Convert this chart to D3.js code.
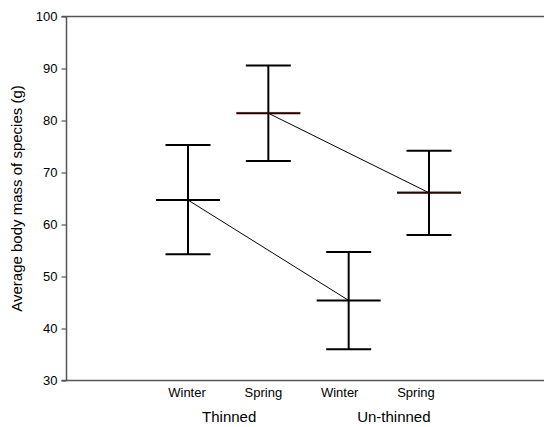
<!DOCTYPE html>
<html lang="en">
<head>
<meta charset="utf-8">
<script src="https://cdn.jsdelivr.net/npm/d3@7"></script>
<style>
  body { margin: 0; background: #fff; }
  text { font-family: "Liberation Sans", Arial, sans-serif; fill: #000; }
</style>
</head>
<body>
<div id="my_dataviz"></div>
<script>
// categories along the x axis
var seasons = ["Winter", "Spring", "Winter", "Spring"];
var treatments = ["Thinned", "Thinned", "Un-thinned", "Un-thinned"];
var groups = ["Thinned", "Un-thinned"];

// mean and error bar ends (g)
var means = [64.7, 81.4, 45.4, 66.1];
var upper = [75.3, 90.6, 54.7, 74.2];
var lower = [54.3, 72.2, 36.0, 58.0];

var yTicks = [30, 40, 50, 60, 70, 80, 90, 100];

var W = 544, H = 427;

var svg = d3.select("#my_dataviz")
    .append("svg")
    .attr("width", W)
    .attr("height", H);

var plotLeft = 66.5, plotTop = 16.5, plotBottom = 380.5;

// Y scale
var y = d3.scaleLinear()
    .domain([30, 100])
    .range([plotBottom, plotTop]);

// X scale, category index 0..3
var x = d3.scaleLinear()
    .domain([0, 3])
    .range([188, 429]);

// labels sit a little off the bars in the original
var xl = d3.scaleLinear()
    .domain([0, 3])
    .range([187, 416]);

// frame: left axis, top and bottom lines
var axisColor = "#555";
svg.append("line")
    .attr("x1", plotLeft).attr("x2", plotLeft)
    .attr("y1", plotTop).attr("y2", plotBottom)
    .style("stroke", axisColor).style("stroke-width", 1.5);
svg.append("line")
    .attr("x1", plotLeft - 5).attr("x2", W)
    .attr("y1", plotTop).attr("y2", plotTop)
    .style("stroke", axisColor).style("stroke-width", 1.5);
svg.append("line")
    .attr("x1", plotLeft - 5).attr("x2", W)
    .attr("y1", plotBottom).attr("y2", plotBottom)
    .style("stroke", axisColor).style("stroke-width", 1.5);

// y axis ticks
var yAxis = d3.axisLeft(y).tickValues(yTicks).tickSize(5).tickPadding(4);
var gy = svg.append("g")
    .attr("transform", "translate(" + plotLeft + ",0)")
    .call(yAxis);
gy.select(".domain").remove();
gy.selectAll(".tick line").style("stroke", axisColor).style("stroke-width", 1.2);
gy.selectAll(".tick text")
    .style("font-size", "13px")
    .style("font-family", "'Liberation Sans', Arial, sans-serif")
    .attr("fill", "#000");

// y title
svg.append("text")
    .attr("transform", "translate(22," + ((plotTop + plotBottom) / 2) + ") rotate(-90)")
    .attr("text-anchor", "middle")
    .style("font-size", "15px")
    .text("Average body mass of species (g)");

// x tick labels
svg.selectAll(".season")
    .data(seasons)
    .enter()
    .append("text")
    .attr("class", "season")
    .attr("x", function (d, i) { return xl(i); })
    .attr("y", 397)
    .attr("text-anchor", "middle")
    .style("font-size", "13px")
    .text(function (d) { return d; });

// group labels
svg.selectAll(".group")
    .data(groups)
    .enter()
    .append("text")
    .attr("class", "group")
    .attr("x", function (g) {
        var idx = [];
        treatments.forEach(function (t, i) { if (t === g) idx.push(i); });
        return xl(d3.mean(idx)) + (g === "Thinned" ? 4 : 16);
    })
    .attr("y", 422)
    .attr("text-anchor", "middle")
    .style("font-size", "15px")
    .text(function (d) { return d; });

// connecting lines: same season across treatments
var idxs = d3.range(seasons.length);
["Winter", "Spring"].forEach(function (s) {
    var pts = idxs.filter(function (i) { return seasons[i] === s; });
    svg.append("path")
        .datum(pts)
        .attr("d", d3.line()
            .x(function (i) { return x(i); })
            .y(function (i) { return y(means[i]); }))
        .style("fill", "none")
        .style("stroke", "#000")
        .style("stroke-width", 1);
});

// error bars
var bars = svg.selectAll(".bar")
    .data(idxs)
    .enter()
    .append("g")
    .attr("class", "bar");

bars.append("line")
    .attr("x1", function (i) { return x(i); })
    .attr("x2", function (i) { return x(i); })
    .attr("y1", function (i) { return y(upper[i]); })
    .attr("y2", function (i) { return y(lower[i]); })
    .style("stroke", "#000").style("stroke-width", 2);

[upper, lower].forEach(function (arr) {
    bars.append("line")
        .attr("x1", function (i) { return x(i) - 22.5; })
        .attr("x2", function (i) { return x(i) + 22.5; })
        .attr("y1", function (i) { return y(arr[i]); })
        .attr("y2", function (i) { return y(arr[i]); })
        .style("stroke", "#000").style("stroke-width", 2);
});

bars.append("line")
    .attr("x1", function (i) { return x(i) - 32; })
    .attr("x2", function (i) { return x(i) + 32; })
    .attr("y1", function (i) { return y(means[i]); })
    .attr("y2", function (i) { return y(means[i]); })
    .style("stroke", function (i) { return seasons[i] === "Spring" ? "#1a0303" : "#000"; })
    .style("stroke-width", 2);

// faint red edge on the spring means
bars.filter(function (i) { return seasons[i] === "Spring"; })
    .append("line")
    .attr("x1", function (i) { return x(i) - 32; })
    .attr("x2", function (i) { return x(i) + 32; })
    .attr("y1", function (i) { return y(means[i]) - 0.8; })
    .attr("y2", function (i) { return y(means[i]) - 0.8; })
    .style("stroke", "#5a1515").style("stroke-width", 0.5);
</script>
</body>
</html>
